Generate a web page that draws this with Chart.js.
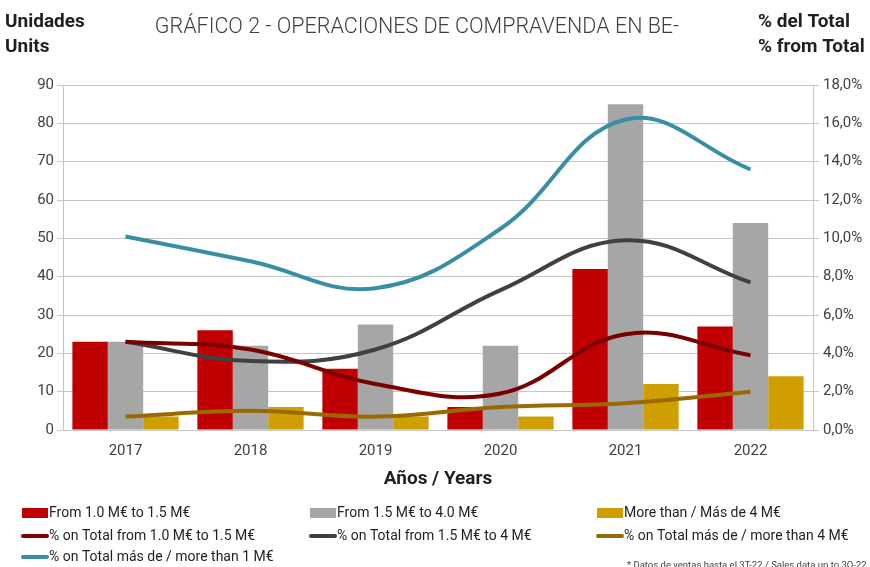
<!DOCTYPE html>
<html>
<head>
<meta charset="utf-8">
<script src="https://cdn.jsdelivr.net/npm/chart.js@4"></script>
<style>
  html, body { margin: 0; padding: 0; background: #fff; }
  #wrap { width: 870px; height: 567px; position: relative; }
</style>
</head>
<body>
<div id="wrap"><canvas id="salesChart" width="870" height="567"></canvas></div>
<script>
// Chart data
const years = ['2017', '2018', '2019', '2020', '2021', '2022'];
const unitsFrom1To15 = [23, 26, 16, 6, 42, 27];
const unitsFrom15To4 = [23, 22, 27.5, 22, 85, 54];
const unitsOver4 = [3.5, 6, 3.5, 3.5, 12, 14];
const pctFrom1To15 = [4.6, 4.2, 2.4, 1.9, 5.0, 3.9];
const pctFrom15To4 = [4.6, 3.6, 4.2, 7.3, 9.9, 7.7];
const pctOver4 = [0.7, 1.0, 0.7, 1.2, 1.4, 2.0];
const pctOver1 = [10.1, 8.8, 7.4, 10.5, 16.2, 13.6];
const unitTicks = [0, 10, 20, 30, 40, 50, 60, 70, 80, 90];
const pctTicks = [0, 2, 4, 6, 8, 10, 12, 14, 16, 18];

const FONT = 'Roboto, "Liberation Sans", sans-serif';
const TEXT = '#404040';
const GRID = '#c6c6c6';

function lineSet(label, data, color) {
  return {
    type: 'line',
    label: label,
    data: data,
    yAxisID: 'y1',
    borderColor: color,
    backgroundColor: color,
    borderWidth: 4,
    pointRadius: 0,
    tension: 0.4,
    fill: false,
    order: 1
  };
}

function barSet(label, data, color) {
  return {
    type: 'bar',
    label: label,
    data: data,
    yAxisID: 'y',
    backgroundColor: color,
    borderWidth: 0,
    barPercentage: 1,
    categoryPercentage: 0.85,
    order: 2
  };
}

// Titles, unit labels, legend and footnote
const decorations = {
  id: 'decorations',
  afterDraw(chart) {
    const ctx = chart.ctx;
    ctx.save();
    ctx.textBaseline = 'middle';
    ctx.textAlign = 'left';

    ctx.fillStyle = '#1f1f1f';
    ctx.font = 'bold 19px ' + FONT;
    ctx.fillText('Unidades', 5, 22);
    ctx.fillText('Units', 5, 47);
    ctx.fillText('% del Total', 758, 22);
    ctx.fillText('% from Total', 758, 47);

    ctx.fillStyle = TEXT;
    ctx.font = '300 21.5px ' + FONT;
    ctx.textAlign = 'center';
    ctx.fillText('GRÁFICO 2 - OPERACIONES DE COMPRAVENDA EN BE-', 417, 28);

    // legend: bars on row 1, lines on rows 2 and 3
    const cols = [22, 310, 597];
    const rows = [513, 536, 557];
    ctx.textAlign = 'left';
    ctx.font = '14px ' + FONT;
    chart.data.datasets.forEach((ds, i) => {
      const x = cols[i < 3 ? i : (i - 3) % 3];
      const y = rows[i < 3 ? 0 : (i < 6 ? 1 : 2)];
      if (ds.type === 'bar') {
        ctx.fillStyle = ds.backgroundColor;
        ctx.fillRect(x, y - 5, 26, 10);
      } else {
        ctx.strokeStyle = ds.borderColor;
        ctx.lineWidth = 4;
        ctx.lineCap = 'round';
        ctx.beginPath();
        ctx.moveTo(x + 1, y);
        ctx.lineTo(x + 25, y);
        ctx.stroke();
      }
      ctx.fillStyle = '#1f1f1f';
      ctx.fillText(ds.label, x + 27, y);
    });

    ctx.fillStyle = TEXT;
    ctx.font = '9.5px ' + FONT;
    ctx.fillText('* Datos de ventas hasta el 3T-22 / Sales data up to 3Q-22', 627, 566);
    ctx.restore();
  }
};

const ctx = document.getElementById('salesChart').getContext('2d');
new Chart(ctx, {
  type: 'bar',
  data: {
    labels: years,
    datasets: [
      barSet('From 1.0 M€ to 1.5 M€', unitsFrom1To15, '#c00000'),
      barSet('From 1.5 M€ to 4.0 M€', unitsFrom15To4, '#a6a6a6'),
      barSet('More than / Más de 4 M€', unitsOver4, '#cf9f00'),
      lineSet('% on Total from 1.0 M€ to 1.5 M€', pctFrom1To15, '#7a0000'),
      lineSet('% on Total from 1.5 M€ to 4 M€', pctFrom15To4, '#404040'),
      lineSet('% on Total más de / more than 4 M€', pctOver4, '#9a6a00'),
      lineSet('% on Total más de / more than 1 M€', pctOver1, '#3a8ea4')
    ]
  },
  options: {
    responsive: false,
    animation: false,
    layout: { padding: { top: 85, bottom: 76, left: 0, right: 0 } },
    plugins: {
      legend: { display: false },
      tooltip: { enabled: false }
    },
    scales: {
      x: {
        grid: { display: false, drawTicks: false },
        border: { display: true, color: GRID },
        ticks: { padding: 12, color: TEXT, font: { family: FONT, size: 15 } },
        title: {
          display: true,
          text: 'Años / Years',
          color: '#1f1f1f',
          font: { family: FONT, size: 19, weight: 'bold' },
          padding: { top: 0, bottom: 0 }
        },
        afterFit(scale) { scale.height = 61; }
      },
      y: {
        position: 'left',
        min: 0,
        max: 90,
        afterBuildTicks(scale) { scale.ticks = unitTicks.map(v => ({ value: v })); },
        grid: { color: GRID, tickLength: 6 },
        border: { display: true, color: GRID },
        ticks: { padding: 3, color: TEXT, font: { family: FONT, size: 15 } },
        afterFit(scale) { scale.width = 63; }
      },
      y1: {
        position: 'right',
        min: 0,
        max: 18,
        afterBuildTicks(scale) { scale.ticks = pctTicks.map(v => ({ value: v })); },
        grid: { drawOnChartArea: false, color: GRID, tickLength: 6 },
        border: { display: true, color: GRID },
        ticks: {
          padding: 4,
          color: TEXT,
          font: { family: FONT, size: 15 },
          callback: v => v.toFixed(1).replace('.', ',') + '%'
        },
        afterFit(scale) { scale.width = 57; }
      }
    }
  },
  plugins: [decorations]
});
</script>
</body>
</html>
